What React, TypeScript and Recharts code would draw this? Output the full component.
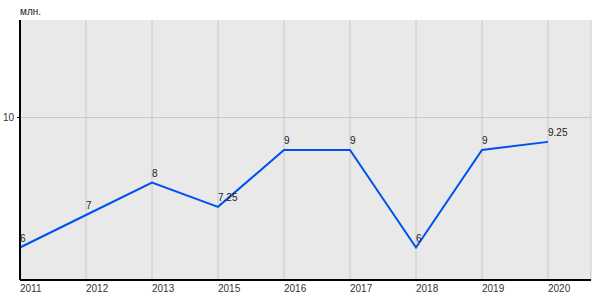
import React from 'react';
import { LineChart, Line, XAxis, YAxis, CartesianGrid, LabelList } from 'recharts';

const years = ['2011', '2012', '2013', '2015', '2016', '2017', '2018', '2019', '2020'];
const values = [6, 7, 8, 7.25, 9, 9, 6, 9, 9.25];
const yTicks = [10];

const data = years.map((year, i) => ({ year, value: values[i] }));

const ValueLabel = (props: any) => {
  const { x, y, value } = props;
  return (
    <text x={x} y={y - 6} fontSize={10} fill="#222" fontFamily="Liberation Sans, Arial, sans-serif">
      {value}
    </text>
  );
};

const App: React.FC = () => {
  return (
    <div style={{ position: 'absolute', left: 0, top: 0, width: 600, height: 300, fontFamily: 'Liberation Sans, Arial, sans-serif' }}>
      <div style={{ position: 'absolute', left: 20, top: 6, fontSize: 10, color: '#222' }}>млн.</div>
      <LineChart
        width={600}
        height={300}
        data={data}
        margin={{ top: 20, right: 9, left: 0, bottom: 0 }}
      >
        <CartesianGrid fill="#e9e9e9" stroke="#c8c8c8" strokeWidth={1} horizontalValues={yTicks} />
        <XAxis
          dataKey="year"
          height={20}
          padding={{ left: 0, right: 43 }}
          axisLine={{ stroke: '#000', strokeWidth: 2 }}
          tickLine={false}
          tickSize={0}
          tickMargin={5}
          tick={{ textAnchor: 'start', fontSize: 10, fill: '#333' }}
          interval={0}
        />
        <YAxis
          width={20}
          domain={[5, 13]}
          ticks={yTicks}
          axisLine={{ stroke: '#000', strokeWidth: 2 }}
          tickLine={{ stroke: '#000' }}
          tickSize={3}
          tickMargin={3}
          tick={{ fontSize: 10, fill: '#333' }}
        />
        <Line
          type="linear"
          dataKey="value"
          stroke="#0050f0"
          strokeWidth={2}
          dot={false}
          isAnimationActive={false}
        >
          <LabelList dataKey="value" content={<ValueLabel />} />
        </Line>
      </LineChart>
    </div>
  );
};

export default App;
